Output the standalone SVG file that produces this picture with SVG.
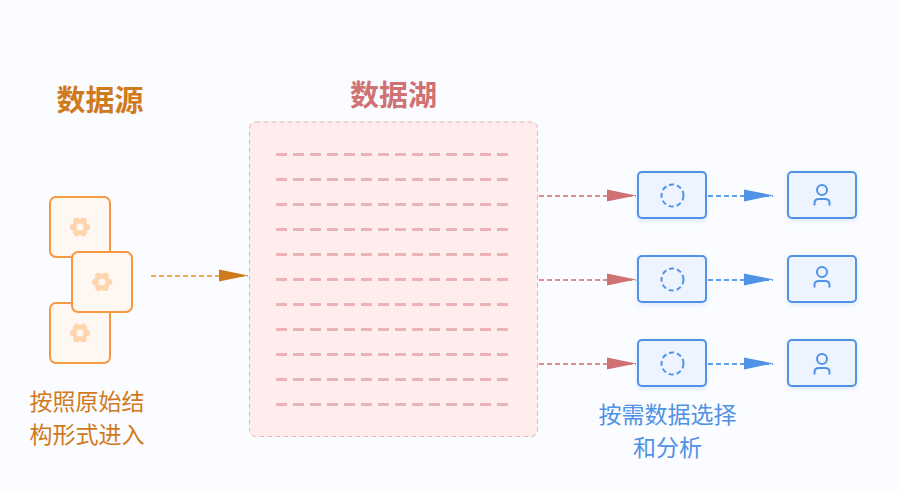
<svg xmlns="http://www.w3.org/2000/svg" width="900" height="492" viewBox="0 0 900 492">
<style>
text{font-family:"Noto Sans CJK SC","Noto Sans",sans-serif;text-anchor:middle}
.t{font-size:29px;font-weight:700}
.l{font-size:23px}
.src{fill:#fff8f2;stroke:#f59a40;stroke-width:2}
.g{fill:#fdd5ae}
.lk{stroke:#eab4b6;stroke-width:3;stroke-dasharray:11 6;fill:none}
.b{fill:#edf4ff;stroke:#4f92e6;stroke-width:2;filter:url(#sh)}
.ic{fill:none;stroke:#4f92e6;stroke-width:2}
</style>
<defs>
<filter id="sh" x="-20%" y="-20%" width="140%" height="150%"><feDropShadow dx="0" dy="2" stdDeviation="2.5" flood-color="#4f92e6" flood-opacity=".18"/></filter>
<marker id="ao" markerUnits="userSpaceOnUse" markerWidth="30" markerHeight="15" refX="29" refY="7.600" orient="auto"><path d="M0 1L29 7L0 13Z" fill="#d07a1e"/></marker>
<marker id="ar" markerUnits="userSpaceOnUse" markerWidth="30" markerHeight="15" refX="29" refY="7.600" orient="auto"><path d="M0 1L29 7L0 13Z" fill="#cf7274"/></marker>
<marker id="ab" markerUnits="userSpaceOnUse" markerWidth="30" markerHeight="15" refX="29" refY="7.600" orient="auto"><path d="M0 1L29 7L0 13Z" fill="#4f92e6"/></marker>
<g id="flower"><circle class="g" cx="6.500" cy="0" r="3.600"/><circle class="g" cx="3.250" cy="5.600" r="3.600"/><circle class="g" cx="-3.250" cy="5.600" r="3.600"/><circle class="g" cx="-6.500" cy="0" r="3.600"/><circle class="g" cx="-3.250" cy="-5.600" r="3.600"/><circle class="g" cx="3.250" cy="-5.600" r="3.600"/><circle class="g" r="6.500"/><circle r="3.500" fill="#fff8f2"/></g>
<g id="person"><circle cx="0" cy="-5.500" r="5" class="ic"/><path class="ic" d="M-7.500 10V7.500Q-7.500 3.500 -3 3.500H3Q7.500 3.500 7.500 7.500V10"/></g>
</defs>
<rect width="900" height="492" fill="#fbfcff"/>
<g id="source-title"><text class="t" x="100" y="111" fill="#d07a1e">数据源</text></g>
<g id="lake-title"><text class="t" x="393.500" y="106" fill="#cf7274">数据湖</text></g>
<g id="source-3"><rect class="src" x="50" y="303" width="60" height="60" rx="6"/><use href="#flower" x="80" y="333"/></g>
<g id="source-1"><rect class="src" x="50" y="197" width="60" height="60" rx="6"/><use href="#flower" x="80" y="227"/></g>
<g id="source-2"><rect class="src" x="72" y="252" width="60" height="60" rx="6"/><use href="#flower" x="102" y="282"/></g>
<g id="source-label"><text class="l" x="87" y="410" fill="#d07a1e">按照原始结</text><text class="l" x="87" y="443" fill="#d07a1e">构形式进入</text></g>
<g id="lake">
<rect x="249.500" y="122" width="288" height="314.500" rx="6" fill="#ffecec" stroke="#eab4b6" stroke-dasharray="5 3"/>
<path class="lk" d="M276 154.500H508M276 179.500H508M276 204.500H508M276 229.500H508M276 254.500H508M276 279.500H508M276 304.500H508M276 329.500H508M276 354.500H508M276 379.500H508M276 404.500H508"/>
</g>
<g id="connectors" fill="none" stroke-width="2" stroke-dasharray="5 3">
<path d="M151 276H248" stroke="#f0a860" marker-end="url(#ao)"/>
<path d="M539 196H636" stroke="#d98d8f" marker-end="url(#ar)"/>
<path d="M539 280H636" stroke="#d98d8f" marker-end="url(#ar)"/>
<path d="M539 364H636" stroke="#d98d8f" marker-end="url(#ar)"/>
<path d="M708 196H773" stroke="#5e9eeb" marker-end="url(#ab)"/>
<path d="M708 280H773" stroke="#5e9eeb" marker-end="url(#ab)"/>
<path d="M708 364H773" stroke="#5e9eeb" marker-end="url(#ab)"/>
</g>
<g id="select-1"><rect class="b" x="638" y="172" width="68" height="46" rx="4"/><circle class="ic" cx="672.500" cy="195.500" r="11" stroke-dasharray="5 3"/></g>
<g id="select-2"><rect class="b" x="638" y="256" width="68" height="46" rx="4"/><circle class="ic" cx="672.500" cy="279.500" r="11" stroke-dasharray="5 3"/></g>
<g id="select-3"><rect class="b" x="638" y="340" width="68" height="46" rx="4"/><circle class="ic" cx="672.500" cy="363.500" r="11" stroke-dasharray="5 3"/></g>
<g id="user-1"><rect class="b" x="788" y="172" width="68" height="46" rx="4"/><use href="#person" x="822" y="195.500"/></g>
<g id="user-2"><rect class="b" x="788" y="256" width="68" height="46" rx="4"/><use href="#person" x="822" y="277.500"/></g>
<g id="user-3"><rect class="b" x="788" y="340" width="68" height="46" rx="4"/><use href="#person" x="822" y="364.500"/></g>
<g id="select-label"><text class="l" x="667.500" y="423" fill="#4f92e6">按需数据选择</text><text class="l" x="667.500" y="456" fill="#4f92e6">和分析</text></g>
</svg>
